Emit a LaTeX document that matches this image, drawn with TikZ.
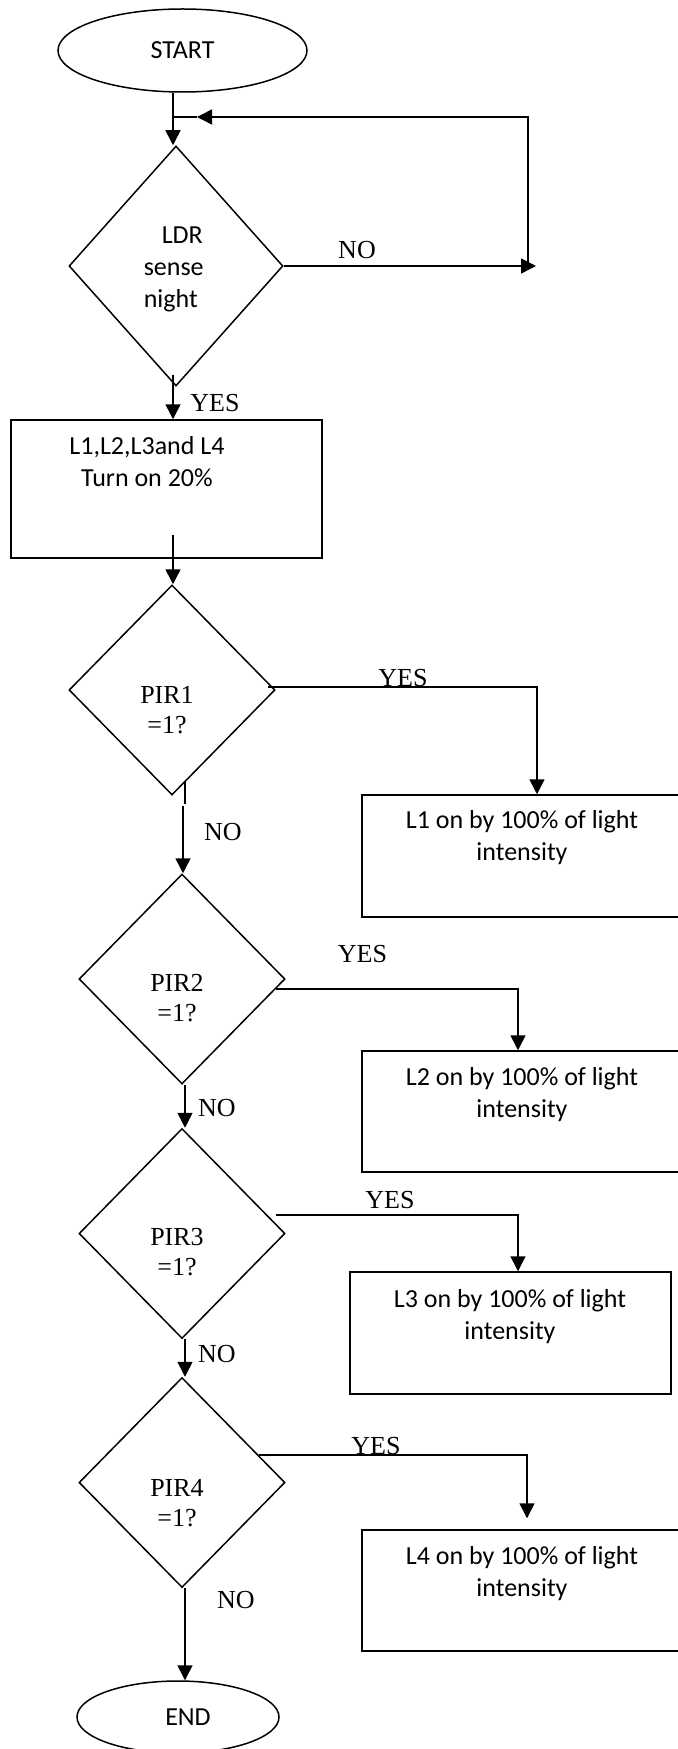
\documentclass[tikz,border=0pt]{standalone}
\usepackage{fontspec}
\setmainfont{Carlito}
\newfontfamily\timesfont{Liberation Serif}
\usetikzlibrary{shapes.geometric,arrows.meta}
\tikzset{
  flow/.style={-{Triangle[length=7.5pt,width=7.5pt]}},
  terminal/.style={draw,ellipse,inner sep=0pt},
  decision/.style={draw,diamond,inner sep=0pt,minimum width=103pt,minimum height=105pt},
  lampbox/.style={draw,rectangle,inner sep=0pt,minimum width=179pt,minimum height=61pt},
  calib/.style={font=\fontsize{13}{16}\selectfont,inner sep=0pt,align=center},
  tnr/.style={font=\timesfont\fontsize{13}{15}\selectfont,inner sep=0pt,align=center},
}
\begin{document}
\begin{tikzpicture}[x=0.5pt,y=-0.5pt,line width=0.75pt]
\useasboundingbox (0,0) rectangle (678,1749);
\node[terminal,calib,minimum width=124.5pt,minimum height=41.5pt] (start) at (182.5,50.5) {START};
\node[decision,minimum width=107pt,minimum height=120pt] (ldr) at (176,266) {};
\node[calib,align=left,anchor=west] (ldrtxt) at (143,269) {\hspace*{9pt}LDR\\sense\\night};
\node[lampbox,minimum width=155.5pt,minimum height=69pt] (lamps) at (166.5,489) {};
\node[calib] (lampstxt) at (147,462) {L1,L2,L3and L4\\Turn on 20\%};
\node[decision] (pir1) at (172,690) {};
\node[tnr] (pir1txt) at (167,710) {PIR1\\=1?};
\node[decision] (pir2) at (182,979) {};
\node[tnr] (pir2txt) at (177,998.5) {PIR2\\=1?};
\node[decision] (pir3) at (182,1233.5) {};
\node[tnr] (pir3txt) at (177,1252) {PIR3\\=1?};
\node[decision] (pir4) at (182,1482.5) {};
\node[tnr] (pir4txt) at (177,1503) {PIR4\\=1?};
\node[lampbox] (lone) at (541,856) {};
\node[calib] (lonetxt) at (522,838) {L1 on by 100\% of light\\intensity};
\node[lampbox,minimum height=60.5pt] (ltwo) at (541,1111.5) {};
\node[calib] (ltwotxt) at (522,1094.5) {L2 on by 100\% of light\\intensity};
\node[lampbox,minimum width=160.5pt] (lthree) at (510.5,1333) {};
\node[calib] (lthreetxt) at (510,1316.5) {L3 on by 100\% of light\\intensity};
\node[lampbox,minimum height=60.5pt] (lfour) at (541,1590.5) {};
\node[calib] (lfourtxt) at (522,1574) {L4 on by 100\% of light\\intensity};
\node[terminal,calib,minimum width=101pt,minimum height=36pt] (fin) at (178,1717) {\hspace*{10pt}END};
\coordinate (join) at (173,117);
\coordinate (loopr) at (528,117);
\coordinate (looptip) at (197,117);
\coordinate (noend) at (536,266);
\draw[flow] ([xshift=-4.75pt]start.south) -- ([xshift=-1.5pt]ldr.north);
\draw[flow] (ldr.east) -- (noend);
\draw[flow] (loopr |- noend) -- (loopr) -- (looptip);
\draw (looptip) -- (join);
\draw[flow] ([shift={(-1.5pt,6pt)}]ldr.south) -- ([xshift=3.25pt]lamps.north);
\draw[flow] ([shift={(3.25pt,12pt)}]lamps.south) -- ([xshift=0.5pt]pir1.north);
\draw[flow] (pir1.east) ++(-8,-3) -| ([xshift=-2pt]lone.north);
\draw[flow] (pir2.east) ++(-10,10) -| ([xshift=-11.5pt]ltwo.north);
\draw[flow] (pir3.east) ++(-10,-18.5) -| ([xshift=3.75pt]lthree.north);
\draw[flow] (pir4.east) ++(-27,-27.5) -| ([shift={(-7pt,5.5pt)}]lfour.north);
\draw (pir1.south) ++(13,-14) -- ++(0,22);
\draw[flow] (pir1.south) ++(11,10) -- ([xshift=0.5pt]pir2.north);
\draw[flow] ([xshift=1.5pt]pir2.south) -- ([xshift=1.5pt]pir3.north);
\draw[flow] ([xshift=1.5pt]pir3.south) -- ([xshift=1.5pt]pir4.north);
\draw[flow] ([xshift=1.5pt]pir4.south) -- ([xshift=3.5pt]fin.north);
\draw (357,250) node[tnr] (noldr) {NO};
\draw (215,403) node[tnr] (yesldr) {YES};
\draw (403,678) node[tnr] (yes1) {YES};
\draw (223,832) node[tnr] (no1) {NO};
\draw (362.5,954.5) node[tnr] (yes2) {YES};
\draw (217,1108.5) node[tnr] (no2) {NO};
\draw (390,1200.5) node[tnr] (yes3) {YES};
\draw (217,1354.5) node[tnr] (no3) {NO};
\draw (376,1446) node[tnr] (yes4) {YES};
\draw (236,1600) node[tnr] (no4) {NO};
\end{tikzpicture}
\end{document}
